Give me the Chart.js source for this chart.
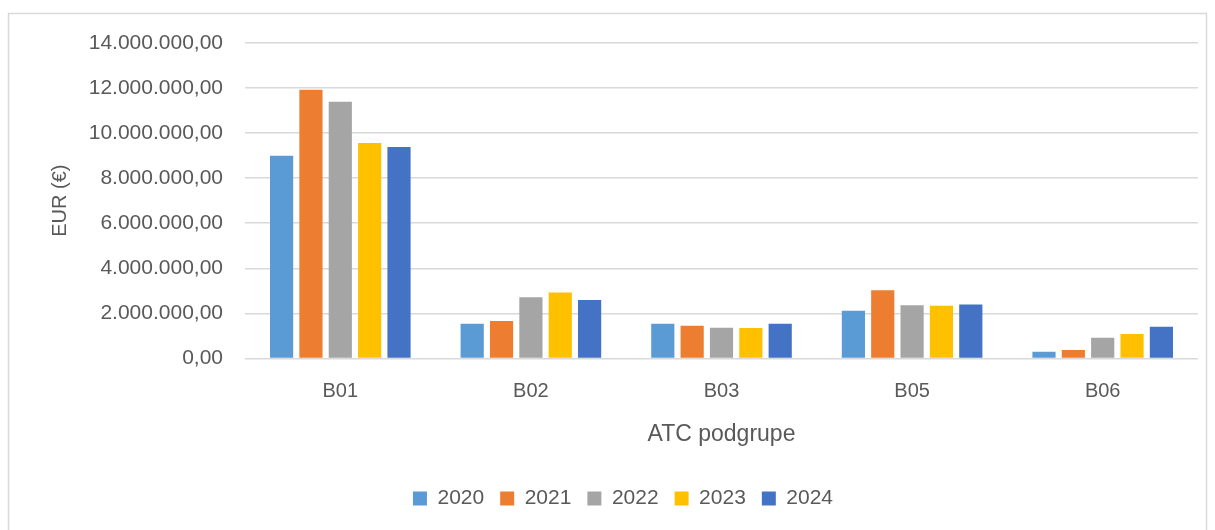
<!DOCTYPE html>
<html>
<head>
<meta charset="utf-8">
<script src="https://cdn.jsdelivr.net/npm/chart.js@4.4.1/dist/chart.umd.min.js"></script>
<style>
  html, body { margin: 0; padding: 0; background: #fff; }
  #wrap { position: relative; width: 1215px; height: 530px; }
</style>
</head>
<body>
<div id="wrap"><canvas id="chart" width="1215" height="530"></canvas></div>
<script>
// podaci
var categories = ['B01', 'B02', 'B03', 'B05', 'B06'];
var years = ['2020', '2021', '2022', '2023', '2024'];
var v2020 = [8990000, 1540000, 1540000, 2110000, 300000];
var v2021 = [11920000, 1660000, 1450000, 3020000, 370000];
var v2022 = [11390000, 2710000, 1360000, 2360000, 920000];
var v2023 = [9560000, 2930000, 1350000, 2340000, 1080000];
var v2024 = [9380000, 2590000, 1540000, 2390000, 1400000];
var colors = ['#5B9BD5', '#ED7D31', '#A5A5A5', '#FFC000', '#4472C4'];
var yTicks = [0, 2000000, 4000000, 6000000, 8000000, 10000000, 12000000, 14000000];

var series = [v2020, v2021, v2022, v2023, v2024];
var fontFam = '"Liberation Sans", Arial, sans-serif';
var grey = '#595959';

// 14.000.000,00 format
function fmt(n){
	var s = Math.round(n).toString();
	s = s.replace(/\B(?=(\d{3})+(?!\d))/g, '.');
	return s + ',00';
}

var datasets = [];
for (var i = 0; i < years.length; i++) {
	datasets.push({
		label: years[i],
		data: series[i],
		backgroundColor: colors[i],
		borderWidth: 0,
		barPercentage: 0.79,
		categoryPercentage: 0.77
	});
}

// okvir oko grafikona
var framePlugin = {
	id: 'frame',
	beforeDraw: function(chart){
		var ctx = chart.ctx;
		ctx.save();
		ctx.strokeStyle = '#d9d9d9';
		ctx.lineWidth = 1.5;
		ctx.strokeRect(8.5, 13.5, 1198, 540);
		ctx.restore();
	}
};

var config = {
	type: 'bar',
	data: { labels: categories, datasets: datasets },
	plugins: [framePlugin],
	options: {
		responsive: false,
		maintainAspectRatio: false,
		animation: false,
		layout: { padding: { top: 43, right: 17, left: 48, bottom: 11 } },
		plugins: {
			tooltip: { enabled: false },
			legend: {
				position: 'bottom',
				labels: {
					font: { family: fontFam, size: 21 },
					color: grey,
					boxWidth: 14,
					boxHeight: 14,
					padding: 16
				}
			}
		},
		scales: {
			x: {
				grid: { display: false },
				border: { display: false },
				ticks: { font: { family: fontFam, size: 20 }, color: grey, padding: 13 },
				title: {
					display: true,
					text: 'ATC podgrupe',
					font: { family: fontFam, size: 23 },
					color: grey,
					padding: { top: 4, bottom: 24 }
				}
			},
			y: {
				min: 0,
				max: 14000000,
				afterBuildTicks: function(axis){
					axis.ticks = yTicks.map(function(v){ return { value: v }; });
				},
				afterFit: function(axis){ axis.width = 197; },
				grid: { color: '#d9d9d9', lineWidth: 1.5, drawTicks: false },
				border: { display: false },
				ticks: {
					font: { family: fontFam, size: 21 },
					color: grey,
					padding: 22,
					callback: function(v){ return fmt(v); }
				},
				title: {
					display: true,
					text: 'EUR (€)',
					font: { family: fontFam, size: 20 },
					color: grey,
					padding: { top: 0, bottom: 0 }
				}
			}
		}
	}
};

var chart = new Chart(document.getElementById('chart'), config);
</script>
</body>
</html>
